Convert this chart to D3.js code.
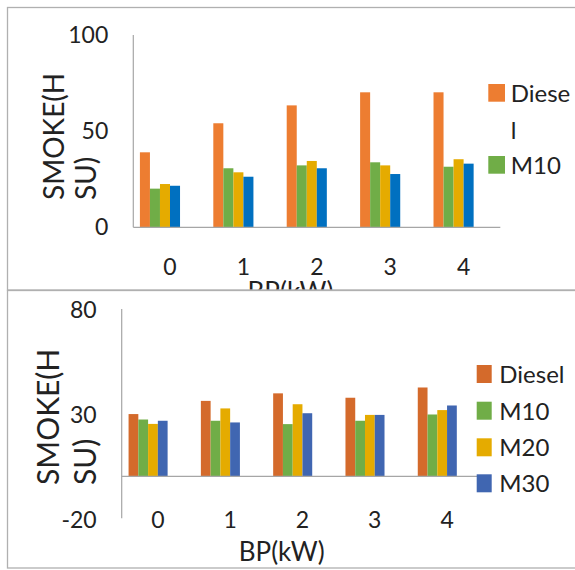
<!DOCTYPE html>
<html><head><meta charset="utf-8">
<script src="https://cdn.jsdelivr.net/npm/d3@7"></script>
<style>body{margin:0;background:#fff}svg{display:block}text{font-family:Lato,"Open Sans",sans-serif;fill:#222}</style>
</head><body>
<script>
const categories = ["0", "1", "2", "3", "4"];
const seriesNames = ["Diesel", "M10", "M20", "M30"];
// Top chart values
const topDiesel = [39.0, 54.1, 63.4, 70.2, 70.2];
const topM10    = [20.1, 30.7, 32.2, 33.8, 31.5];
const topM20    = [22.5, 28.6, 34.5, 32.2, 35.4];
const topM30    = [21.6, 26.3, 30.7, 27.7, 33.1];
// Bottom chart values
const botDiesel = [29.8, 36.1, 39.7, 37.6, 42.5];
const botM10    = [27.2, 26.6, 25.0, 26.6, 29.6];
const botM20    = [25.1, 32.5, 34.5, 29.4, 31.7];
const botM30    = [26.6, 25.8, 30.2, 29.4, 33.9];
const topTicks = [0, 50, 100];
const botTicks = [-20, 30, 80];
const yTitleLines = ["SMOKE(H", "SU)"];
const xTitle = "BP(kW)";

const W = 575, H = 570;
const svg = d3.select("body").append("svg").attr("width", W).attr("height", H);

const panels = [
  {
    box: [7.5, 7.5, 600, 282.5],
    series: [topDiesel, topM10, topM20, topM30],
    colors: ["#ED7D31", "#70AD47", "#E5AB00", "#0070C0"],
    domain: [0, 100], ticks: topTicks,
    yRange: [227.3, 35], xRange: [133.3, 500.3], pad: 0.18,
    tickDy: 8, catBaseline: 275,
    yTitle: {x: [64, 96], y: 200, size: 28},
    xTitle: {x: 290.5, y: 301, size: 26},
    legend: {x: 488.3, w: 16.7, h: 17.7, tx: 510.7,
      rows: [{s: 0, y: 84, lines: ["Diese", "l"]}, {s: 1, y: 156, lines: ["M10"]}], lh: 37.3}
  },
  {
    box: [7.5, 290.5, 600, 277.5],
    series: [botDiesel, botM10, botM20, botM30],
    colors: ["#D46A2B", "#70AD47", "#E5AB00", "#4066B1"],
    domain: [-20, 80], ticks: botTicks,
    yRange: [518.3, 309], xRange: [121.7, 483.2], pad: 0.19,
    tickDy: 9.3, catBaseline: 528.3,
    yTitle: {x: [58.5, 95.5], y: 485, size: 30},
    xTitle: {x: 281.7, y: 561, size: 26},
    legend: {x: 476.7, w: 15, h: 18, tx: 499.3,
      rows: [{s: 0, y: 365, lines: ["Diesel"]}, {s: 1, y: 401.7, lines: ["M10"]},
             {s: 2, y: 438.3, lines: ["M20"]}, {s: 3, y: 474.3, lines: ["M30"]}], lh: 36}
  }
];

const slotCount = 6; // chart reserves six bar slots per category

panels.forEach((p, pi) => {
  const clipId = "clip" + pi;
  svg.append("clipPath").attr("id", clipId).append("rect")
    .attr("x", p.box[0]).attr("y", p.box[1]).attr("width", p.box[2]).attr("height", p.box[3]);
  const g = svg.append("g").attr("clip-path", `url(#${clipId})`);
  g.append("rect").attr("x", p.box[0]).attr("y", p.box[1]).attr("width", p.box[2]).attr("height", p.box[3])
    .attr("fill", "#fff");

  const y = d3.scaleLinear().domain(p.domain).range(p.yRange);
  const x = d3.scaleBand().domain(categories).range(p.xRange).paddingInner(p.pad).paddingOuter(p.pad / 2);
  const xs = d3.scaleBand().domain(d3.range(slotCount)).range([0, x.bandwidth()]);

  // bars
  p.series.forEach((vals, si) => {
    g.append("g").selectAll("rect").data(vals).join("rect")
      .attr("x", (d, i) => x(categories[i]) + xs(si))
      .attr("width", xs.bandwidth())
      .attr("y", d => Math.min(y(d), y(0)))
      .attr("height", d => Math.abs(y(d) - y(0)))
      .attr("fill", p.colors[si]);
  });

  // axes lines
  const ax = p.xRange[0];
  g.append("line").attr("x1", ax).attr("x2", ax).attr("y1", p.yRange[1]).attr("y2", p.yRange[0])
    .attr("stroke", "#a6a6a6").attr("stroke-width", 1.2);
  g.append("line").attr("x1", ax).attr("x2", p.xRange[1]).attr("y1", y(0)).attr("y2", y(0))
    .attr("stroke", "#a6a6a6").attr("stroke-width", 1.2);

  // y tick labels
  g.append("g").selectAll("text").data(p.ticks).join("text")
    .attr("x", ax - 25).attr("y", d => y(d) + p.tickDy)
    .attr("text-anchor", "end").attr("font-size", 23).text(d => d);

  // x category labels
  g.append("g").selectAll("text").data(categories).join("text")
    .attr("x", d => x(d) + x.step() * (1 - p.pad) / 2 + x.step() * 0 + (x.bandwidth() / 2 - x.bandwidth() / 2))
    .attr("y", p.catBaseline).attr("text-anchor", "middle").attr("font-size", 23).text(d => d);

  // y title
  yTitleLines.forEach((t, li) => {
    g.append("text").attr("transform", `translate(${p.yTitle.x[li]},${p.yTitle.y}) rotate(-90)`)
      .attr("font-size", p.yTitle.size).attr("text-anchor", "start").text(t);
  });
  // x title
  g.append("text").attr("x", p.xTitle.x).attr("y", p.xTitle.y).attr("text-anchor", "middle")
    .attr("font-size", p.xTitle.size).text(xTitle);

  // legend
  const L = p.legend;
  L.rows.forEach(r => {
    g.append("rect").attr("x", L.x).attr("y", r.y).attr("width", L.w).attr("height", L.h)
      .attr("fill", p.colors[r.s]);
    r.lines.forEach((ln, k) => {
      g.append("text").attr("x", L.tx).attr("y", r.y + L.h + k * L.lh).attr("font-size", 24).text(ln);
    });
  });

  // border
  svg.append("rect").attr("x", p.box[0]).attr("y", p.box[1]).attr("width", p.box[2]).attr("height", p.box[3])
    .attr("fill", "none").attr("stroke", "#b0b0b0").attr("stroke-width", 1.3);
});
</script>
</body></html>
